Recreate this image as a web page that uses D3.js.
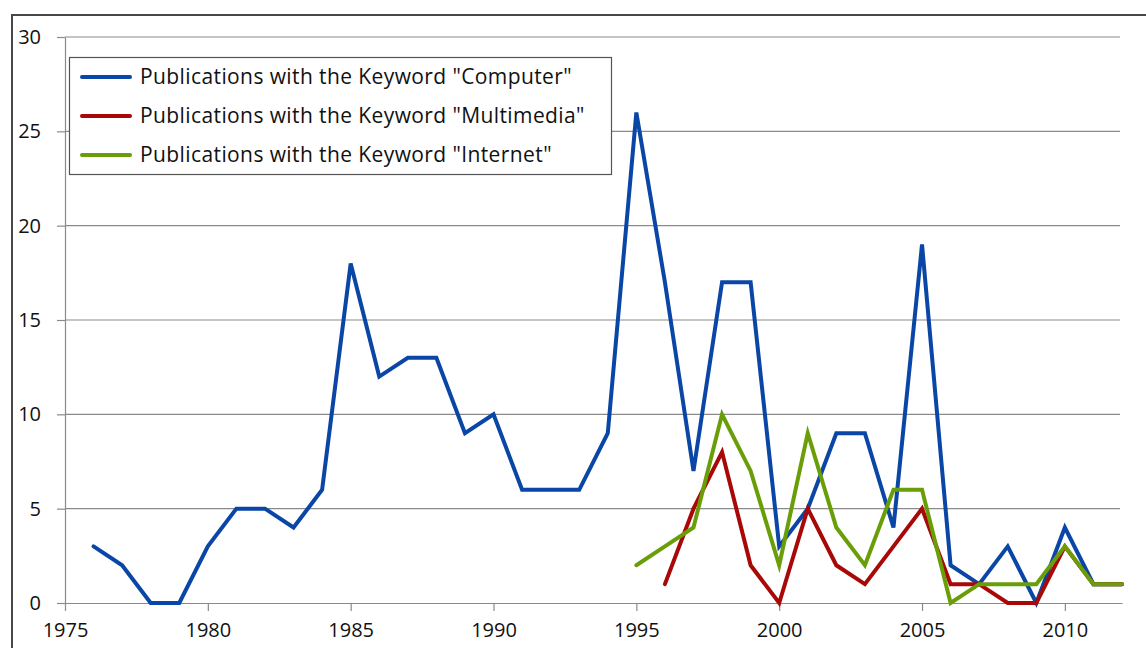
<!DOCTYPE html>
<html><head><meta charset="utf-8">
<script src="https://cdn.jsdelivr.net/npm/d3@7"></script>
<style>body{margin:0;background:#fff}svg{display:block}</style>
</head><body>
<svg id="c" width="1146" height="648"></svg>
<script>
const years = d3.range(1976, 2013);
const computer = [3,2,0,0,3,5,5,4,6,18,12,13,13,9,10,6,6,6,9,26,17,7,17,17,3,5,9,9,4,19,2,1,3,0,4,1,1];
const multimediaYears = d3.range(1996, 2013);
const multimedia = [1,5,8,2,0,5,2,1,3,5,1,1,0,0,3,1,1];
const internetYears = d3.range(1995, 2013);
const internet = [2,3,4,10,7,2,9,4,2,6,6,0,1,1,1,3,1,1];
const xTicks = [1975,1980,1985,1990,1995,2000,2005,2010];
const yTicks = [0,5,10,15,20,25,30];
const seriesNames = ['Publications with the Keyword "Computer"','Publications with the Keyword "Multimedia"','Publications with the Keyword "Internet"'];
const colors = ["#0a46a6","#a80808","#6a9e08"];

const svg = d3.select("#c");
const font = "'Open Sans', sans-serif";
const x = d3.scaleLinear().domain([1975, 2012]).range([65, 1122]);
const y = d3.scaleLinear().domain([0, 30]).range([603, 37]);

// outer frame
svg.append("rect").attr("x",12).attr("y",15).attr("width",1150).attr("height",650)
  .attr("fill","none").attr("stroke","#474747").attr("stroke-width",2);

// gridlines
svg.append("g").selectAll("line").data(yTicks.filter(d=>d>0)).join("line")
  .attr("x1",x(1975)).attr("x2",1120).attr("y1",d=>y(d)).attr("y2",d=>y(d))
  .attr("stroke","#8a8a8a").attr("stroke-width",1.2);

// y axis
const ya = svg.append("g").attr("transform",`translate(${x(1975)},0)`)
  .call(d3.axisLeft(y).tickValues(yTicks).tickSize(8).tickPadding(16).tickSizeOuter(0));
ya.select(".domain").attr("stroke","#8a8a8a").attr("stroke-width",1.2);
ya.selectAll(".tick line").attr("stroke","#8a8a8a").attr("stroke-width",1.2);
ya.selectAll("text").attr("font-family",font).attr("font-size",20).attr("fill","#111");

// x axis
const xa = svg.append("g").attr("transform",`translate(0,${y(0)})`)
  .call(d3.axisBottom(x).tickValues(xTicks).tickFormat(d3.format("d")).tickSize(8).tickPadding(12).tickSizeOuter(0));
xa.select(".domain").attr("stroke","#8a8a8a").attr("stroke-width",1.2);
xa.selectAll(".tick line").attr("stroke","#8a8a8a").attr("stroke-width",1.2);
xa.selectAll("text").attr("font-family",font).attr("font-size",20).attr("fill","#111");

const line = d3.line().x(d=>x(d[0])).y(d=>y(d[1]));
const data = [d3.zip(years, computer), d3.zip(multimediaYears, multimedia), d3.zip(internetYears, internet)];
data.forEach((s,i)=>{
  svg.append("path").datum(s).attr("d",line).attr("fill","none")
    .attr("stroke",colors[i]).attr("stroke-width",4).attr("stroke-linejoin","miter").attr("stroke-linecap","round");
});

// legend
const lg = svg.append("g");
lg.append("rect").attr("x",69.5).attr("y",57.5).attr("width",542).attr("height",117)
  .attr("fill","#fff").attr("stroke","#555").attr("stroke-width",1.2);
seriesNames.forEach((n,i)=>{
  const cy = 77 + i*39;
  lg.append("line").attr("x1",82).attr("x2",130).attr("y1",cy).attr("y2",cy)
    .attr("stroke",colors[i]).attr("stroke-width",4).attr("stroke-linecap","round");
  lg.append("text").attr("x",140).attr("y",cy+7).text(n)
    .attr("font-family",font).attr("font-size",21).attr("letter-spacing",0.4).attr("fill","#111");
});
</script>
</body></html>
